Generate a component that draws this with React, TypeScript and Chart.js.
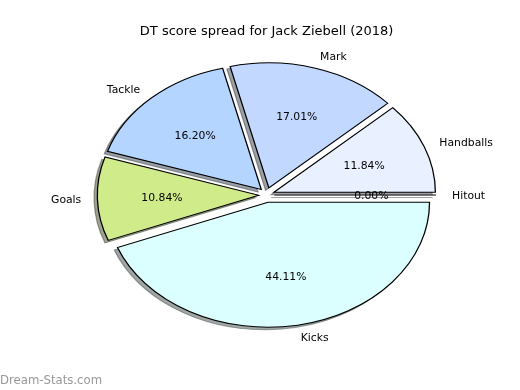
import React, { useEffect, useRef } from "react";
import { Chart, registerables } from "chart.js";

Chart.register(...registerables);

// Data (matplotlib draws counter-clockwise from east; Chart.js clockwise, so order reversed)
const labels = ["Kicks", "Goals", "Tackle", "Mark", "Handballs", "Hitout"];
const shares = [44.11, 10.84, 16.2, 17.01, 11.84, 0.0];
const colors = ["#dbffff", "#d0eb8a", "#b3d5ff", "#c2d8ff", "#e9f0ff", "#f0f0ff"];
const titleText = "DT score spread for Jack Ziebell (2018)";
const watermarkText = "Dream-Stats.com";

// ellipse geometry (pie in non-equal-aspect axes)
const RX = 161.5;
const RY = 125;
const SX = RX / RY;
const EXPX = 7.8;
const EXPY = 7.4;
const SHX = -2.5; // pre-scale units
const SHY = 2.5;
const FONT = '"DejaVu Sans", sans-serif';
const TEXT_DY = 1;

function hexToRgb(h: string) {
  const n = parseInt(h.slice(1), 16);
  return [(n >> 16) & 255, (n >> 8) & 255, n & 255];
}

const piePlugin = {
  id: "mplPie",
  beforeDatasetsDraw(chart: any) {
    const ctx = chart.ctx as CanvasRenderingContext2D;
    const meta = chart.getDatasetMeta(0);
    const els = meta.data;
    for (let i = els.length - 1; i >= 0; i--) {
      const el: any = els[i];
      const { x, y, startAngle, endAngle, outerRadius } = el.getProps(
        ["x", "y", "startAngle", "endAngle", "outerRadius"],
        true
      );
      const mid = (startAngle + endAngle) / 2;
      const ox = Math.cos(mid) * EXPX;
      const oy = Math.sin(mid) * EXPY;
      const [r, g, b] = hexToRgb(colors[i]);
      const sh = `rgba(${Math.round(r * 0.3)},${Math.round(g * 0.3)},${Math.round(b * 0.3)},0.5)`;
      // shadow
      ctx.save();
      ctx.translate(x + ox, y + oy);
      ctx.scale(SX, 1);
      ctx.translate(SHX, SHY);
      ctx.beginPath();
      ctx.moveTo(0, 0);
      ctx.arc(0, 0, outerRadius, startAngle, endAngle);
      ctx.closePath();
      ctx.fillStyle = sh;
      ctx.fill();
      ctx.lineWidth = 1;
      ctx.strokeStyle = sh;
      ctx.stroke();
      ctx.restore();
      // wedge
      ctx.save();
      ctx.translate(x + ox, y + oy);
      ctx.scale(SX, 1);
      ctx.translate(-x, -y);
      if (endAngle - startAngle > 1e-9) {
        el.draw(ctx);
      } else {
        ctx.beginPath();
        ctx.moveTo(x, y);
        ctx.lineTo(x + Math.cos(startAngle) * outerRadius, y + Math.sin(startAngle) * outerRadius);
        ctx.lineWidth = 1;
        ctx.strokeStyle = "#000";
        ctx.stroke();
      }
      ctx.restore();
    }
    return false;
  },
  afterDraw(chart: any) {
    const ctx = chart.ctx as CanvasRenderingContext2D;
    const meta = chart.getDatasetMeta(0);
    const els = meta.data;
    const data = chart.data.datasets[0].data as number[];
    const total = data.reduce((a, b) => a + b, 0);
    ctx.save();
    ctx.fillStyle = "#000";
    ctx.textBaseline = "middle";
    ctx.font = `10.8px ${FONT}`;
    let cxTitle = 0;
    for (let i = 0; i < els.length; i++) {
      const el: any = els[i];
      const { x, y, startAngle, endAngle } = el.getProps(["x", "y", "startAngle", "endAngle"], true);
      cxTitle = x;
      const mid = (startAngle + endAngle) / 2;
      const c = Math.cos(mid);
      const s = Math.sin(mid);
      const ecx = x + c * EXPX;
      const ecy = y + s * EXPY;
      ctx.textAlign = c > 0 ? "left" : "right";
      ctx.fillText(chart.data.labels[i], ecx + 1.1 * RX * c, ecy + 1.1 * RY * s + TEXT_DY);
      ctx.textAlign = "center";
      const pct = ((data[i] / total) * 100).toFixed(2) + "%";
      ctx.fillText(pct, ecx + 0.6 * RX * c, ecy + 0.6 * RY * s + TEXT_DY);
    }
    ctx.font = `13px ${FONT}`;
    ctx.textAlign = "center";
    ctx.fillText(titleText, cxTitle, 31.5);
    ctx.font = `11.7px ${FONT}`;
    ctx.fillStyle = "#999999";
    ctx.textAlign = "left";
    ctx.fillText(watermarkText, 0, 381);
    ctx.restore();
  },
};

export default function App() {
  const ref = useRef<HTMLCanvasElement | null>(null);
  useEffect(() => {
    document.body.style.margin = "0";
    const canvas = ref.current;
    if (!canvas) return;
    const chart = new Chart(canvas, {
      type: "pie",
      data: {
        labels,
        datasets: [
          {
            data: shares,
            backgroundColor: colors,
            borderColor: "#000000",
            borderWidth: 1,
            borderJoinStyle: "miter",
            borderAlign: "center",
            offset: 0,
          } as any,
        ],
      },
      options: {
        responsive: false,
        animation: false,
        events: [],
        rotation: 90,
        radius: RY,
        layout: { padding: { left: 13.2, right: 0, top: 0, bottom: 0 } },
        plugins: {
          legend: { display: false },
          title: { display: false },
          tooltip: { enabled: false },
        },
      } as any,
      plugins: [piePlugin],
    });
    return () => chart.destroy();
  }, []);
  return (
    <div style={{ position: "absolute", left: 0, top: 0, width: 520, height: 390, background: "#fff" }}>
      <canvas ref={ref} width={520} height={390} style={{ display: "block" }} />
    </div>
  );
}
